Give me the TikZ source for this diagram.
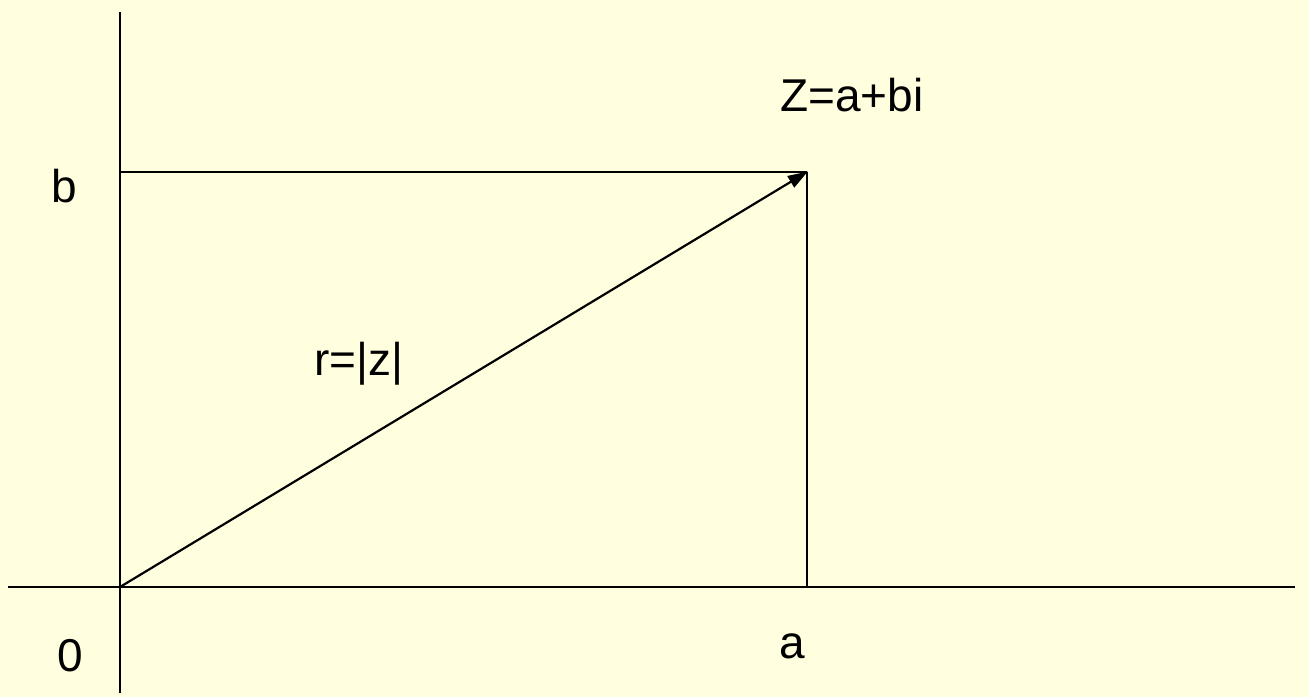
\documentclass[tikz,border=0pt]{standalone}
\usepackage{fontspec}
\setmainfont{Liberation Sans}
\usetikzlibrary{arrows.meta}
\definecolor{bg}{HTML}{FFFFE0}
\begin{document}
\begin{tikzpicture}[x=1pt,y=-1pt,
  axis/.style={line width=2.2pt},
  lbl/.style={inner sep=0pt, font=\fontsize{46}{55}\selectfont}]
\fill[bg] (0,0) rectangle (1309,697);
\useasboundingbox (0,0) rectangle (1309,697);
\coordinate (O) at (120,587);
\coordinate (ytop) at (120,12);
\coordinate (ybot) at (120,693);
\coordinate (xl) at (8,587);
\coordinate (xr) at (1295,587);
\coordinate (B) at (120,172);
\coordinate (Z) at (807,172);
\coordinate (A) at (807,587);
\draw[axis] (ytop) -- (ybot);
\draw[axis] (xl) -- (xr);
\draw[axis] (B) -- (Z);
\draw[axis] (Z) -- (A);
\draw[axis, -{Triangle[length=20pt,width=13pt]}, shorten >=-1pt] (O) -- (Z);
\node[lbl] (lb) at (64,186) {b};
\node[lbl] (l0) at (70,656) {0};
\node[lbl] (la) at (792,646) {a};
\node[lbl] (lz) at (852,95) {Z=a+bi};
\node[lbl] (lr) at (359,364) {r=|z|};
\end{tikzpicture}
\end{document}
